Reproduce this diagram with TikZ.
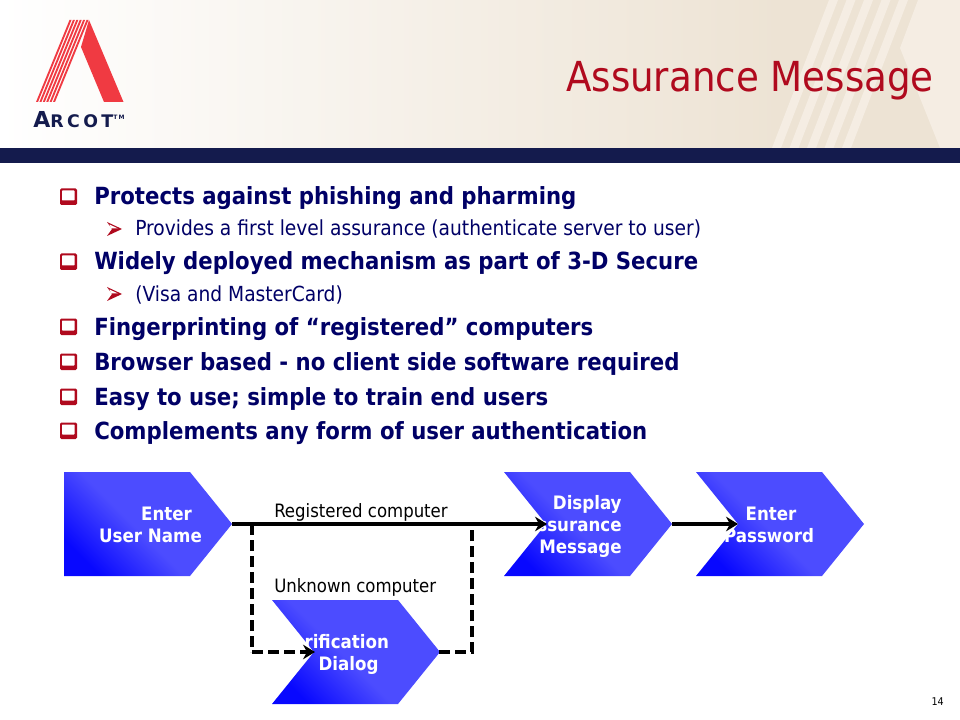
\documentclass[tikz,border=0pt]{standalone}
\usepackage{fontspec}
\setmainfont{DejaVu Sans Condensed}
\newfontfamily\logofont[LetterSpace=20]{DejaVu Sans}
\usetikzlibrary{arrows.meta}
\definecolor{chevA}{HTML}{0808FF}
\definecolor{chevB}{HTML}{4C4CFF}
\pgfdeclarehorizontalshading{chevfill}{100bp}{
  color(0bp)=(chevA);color(24bp)=(chevA);color(46bp)=(chevB);color(100bp)=(chevB)}
\definecolor{navy}{HTML}{141B4D}
\definecolor{bodyblue}{HTML}{000066}
\definecolor{titlered}{HTML}{B00A1E}
\definecolor{logored}{HTML}{F03A42}
\definecolor{beige}{HTML}{EDE3D4}
\definecolor{beigelight}{HTML}{F5EDE3}
\tikzset{
  x=0.75pt,y=-0.75pt,
  lead/.style={anchor=base west,inner sep=0,font=\fontsize{17.72}{20}\selectfont\bfseries,text=bodyblue},
  sub/.style={anchor=base west,inner sep=0,font=\fontsize{15.56}{17}\selectfont,text=bodyblue},
  chevtext/.style={align=center,inner sep=0,text=white,font=\fontsize{13.9}{16.5}\selectfont\bfseries},
  flowlabel/.style={anchor=base west,inner sep=0,font=\fontsize{13.8}{15}\selectfont,text=black},
  flow/.style={line width=2.4pt,black},
  flowdash/.style={flow,dash pattern=on 8pt off 4pt},
  head/.style={-{Stealth[length=9pt,width=11pt,inset=3pt]}},
  chevshade/.style={shading=chevfill,shading angle=45},
}
\newcommand{\chevron}[2]{%
  \shade[chevshade] (#1,#2) -- (#1+126,#2) -- (#1+168,#2+52) -- (#1+126,#2+104) -- (#1,#2+104) -- (#1+42,#2+52) -- cycle;}
\newcommand{\firstchev}[2]{%
  \shade[chevshade] (#1,#2) -- (#1+126,#2) -- (#1+168,#2+52) -- (#1+126,#2+104) -- (#1,#2+104) -- cycle;}
\newcommand{\boxbullet}[1]{%
  \fill[titlered,rounded corners=1pt] (60,#1-8.5) rectangle (77,#1+8);
  \fill[white,rounded corners=0.5pt] (62,#1-6.5) rectangle (74.5,#1+3.5);}
\newcommand{\arrowbullet}[1]{%
  \fill[titlered] (107,#1-7) -- (122,#1) -- (107,#1+7) -- (112,#1) -- cycle;
  \fill[white] (109.5,#1-4.5) -- (118,#1-0.5) -- (111,#1-0.5) -- cycle;}
\begin{document}
\begin{tikzpicture}
\useasboundingbox (0,0) rectangle (960,720);
\fill[white] (0,0) rectangle (960,720);
% header
\shade[left color=white,right color=beige] (0,0) rectangle (780,148);
\fill[beige] (779,0) rectangle (960,148);
\fill[beigelight] (918,0) -- (900,48) -- (940,148) -- (960,148) -- (960,0) -- cycle;
\foreach \i in {0,1,2,3,4}
  \fill[beigelight] (829+\i*17.5,0) -- (838+\i*17.5,0) -- (781+\i*17.5,148) -- (772+\i*17.5,148) -- cycle;
\fill[navy] (0,148) rectangle (960,163);
% logo
\fill[logored] (89,20) -- (123.5,102) -- (104,102) -- (81,47) -- cycle;
\foreach \i in {0,1,2,3,4,5}
  \fill[logored] (69.5+\i*3.4,20) -- (71.5+\i*3.4,20) -- (38+\i*3.4,102) -- (36+\i*3.4,102) -- cycle;
\node[anchor=base west,inner sep=0,text=navy] (logo) at (33,128)
  {\logofont\bfseries\fontsize{16.5}{17}\selectfont A\fontsize{13}{14}\selectfont RCOT\raisebox{6pt}{\fontsize{4.5}{4.5}\selectfont TM}};
\node[anchor=base east,inner sep=0,text=titlered,font=\fontsize{31}{34}\selectfont] (title) at (934,92) {Assurance Message};
% bullets
\boxbullet{197}\boxbullet{262}\boxbullet{327}\boxbullet{362}\boxbullet{397}\boxbullet{431}
\arrowbullet{229}\arrowbullet{294}
\node[lead] (b1) at (94,205) {Protects against phishing and pharming};
\node[sub] (s1) at (135,236) {Provides a first level assurance (authenticate server to user)};
\node[lead] (b2) at (94,270) {Widely deployed mechanism as part of 3-D Secure};
\node[sub] (s2) at (135,301) {(Visa and MasterCard)};
\node[lead] (b3) at (94,335) {Fingerprinting of “registered” computers};
\node[lead] (b4) at (94,370) {Browser based - no client side software required};
\node[lead] (b5) at (94,405) {Easy to use; simple to train end users};
\node[lead] (b6) at (94,439) {Complements any form of user authentication};
% chevrons
\firstchev{64}{472}
\chevron{272}{600}
\chevron{504}{472}
\chevron{696}{472}
\coordinate (user-tip) at (232,524);
\coordinate (display-in) at (547,524);
\coordinate (display-tip) at (672,524);
\coordinate (pass-in) at (738,524);
\coordinate (verify-in) at (315,652);
\coordinate (verify-tip) at (439,652);
\coordinate (branch) at (252,524);
\coordinate (branch-low) at (252,652);
\coordinate (merge) at (472,524);
\coordinate (merge-low) at (472,652);
\node[chevtext] (user) at (150.5,525) {\hspace*{24pt}Enter\\User Name};
\node[chevtext] (verify) at (348.5,654) {Verification\hspace*{20pt}\\Dialog};
\node[chevtext,align=right] (display) at (573,526) {Display\\Assurance\\Message};
\node[chevtext] (pass) at (771,524.5) {Enter\\Password\hspace*{3pt}};
% connectors
\draw[flow,head] (user-tip) -- (display-in);
\draw[flow,head] (display-tip) -- (pass-in);
\draw[flowdash] (branch) -- (branch-low);
\draw[flowdash,head] (branch-low) -- (verify-in);
\draw[flowdash] (verify-tip) -- (merge-low) -- (merge);
\node[flowlabel] (reg) at (274,517) {Registered computer};
\node[flowlabel] (unk) at (274,592) {Unknown computer};
\node[anchor=base east,inner sep=0,font=\fontsize{8}{9}\selectfont] (page) at (944,705) {14};
\end{tikzpicture}
\end{document}
